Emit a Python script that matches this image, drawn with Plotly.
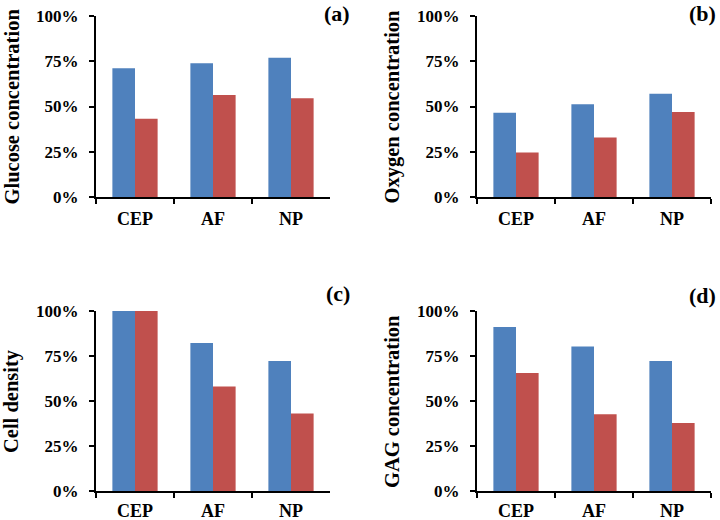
import plotly.graph_objects as go

categories = ["CEP", "AF", "NP"]
glucose_blue = [0.711, 0.739, 0.770]
glucose_red = [0.432, 0.564, 0.546]
oxygen_blue = [0.465, 0.513, 0.570]
oxygen_red = [0.246, 0.329, 0.469]
cell_blue = [1.00, 0.822, 0.722]
cell_red = [1.00, 0.581, 0.430]
gag_blue = [0.911, 0.803, 0.722]
gag_red = [0.655, 0.427, 0.378]
y_titles = ["Glucose concentration", "Oxygen concentration", "Cell density", "GAG concentration"]
panel_labels = ["(a)", "(b)", "(c)", "(d)"]
y_ticks = [0, 0.25, 0.5, 0.75, 1.0]

BLUE = "#4F81BD"
RED = "#C0504D"
FONT = "Liberation Serif"
W, H = 720, 520


def px(x):
    return x / W


def py(y):
    return 1 - y / H


panels = [
    (glucose_blue, glucose_red),
    (oxygen_blue, oxygen_red),
    (cell_blue, cell_red),
    (gag_blue, gag_red),
]
xdomains = [(96, 330), (477, 711), (96, 330), (477, 711)]
ydomains = [(197, 16), (197, 16), (491, 311), (491, 311)]
x_standoff = [4, 4, 2, 2]
title_x = [12, 392, 12, 392]
label_pos = [(352, 13), (718, 13), (352, 293), (718, 295)]

fig = go.Figure()
layout = {}
annotations = []
for i, (b, r) in enumerate(panels):
    n = "" if i == 0 else str(i + 1)
    fig.add_trace(go.Bar(x=categories, y=b, marker=dict(color=BLUE, line=dict(width=0)),
                         xaxis="x" + n, yaxis="y" + n, showlegend=False))
    fig.add_trace(go.Bar(x=categories, y=r, marker=dict(color=RED, line=dict(width=0)),
                         xaxis="x" + n, yaxis="y" + n, showlegend=False))
    x0, x1 = xdomains[i]
    y0, y1 = ydomains[i]
    layout["xaxis" + n] = dict(
        domain=[px(x0), px(x1)], anchor="y" + n, showline=True, linecolor="black", linewidth=2,
        ticks="outside", tickson="boundaries", ticklen=5, tickwidth=2, tickcolor="black",
        showgrid=False, zeroline=False, automargin=False, ticklabelstandoff=x_standoff[i],
        ticklabeloverflow="allow",
        tickfont=dict(family=FONT, size=18, color="black", weight="bold"),
    )
    layout["yaxis" + n] = dict(
        domain=[py(y0), py(y1)], anchor="x" + n, range=[0, 1], tickvals=y_ticks,
        tickformat=".0%", showline=True, linecolor="black", linewidth=2,
        ticks="outside", ticklen=5, tickwidth=2, tickcolor="black",
        showgrid=False, zeroline=False, automargin=False, ticklabelstandoff=7,
        ticklabeloverflow="allow",
        tickfont=dict(family=FONT, size=17, color="black", weight="bold"),
    )
    annotations.append(dict(
        text="<b>%s</b>" % y_titles[i], xref="paper", yref="paper", x=px(title_x[i]),
        y=(py(y0) + py(y1)) / 2,
        xanchor="center", yanchor="middle", textangle=-90, showarrow=False,
        font=dict(family=FONT, size=20.5, color="black"),
    ))
    lx, ly = label_pos[i]
    annotations.append(dict(
        text="<b>%s</b>" % panel_labels[i], xref="paper", yref="paper", x=px(lx), y=py(ly),
        xanchor="right", yanchor="middle", showarrow=False,
        font=dict(family=FONT, size=22, color="black"),
    ))

fig.update_layout(
    width=W, height=H, margin=dict(l=0, r=0, t=0, b=0),
    paper_bgcolor="white", plot_bgcolor="white",
    barmode="group", bargap=0.42, bargroupgap=0,
    font=dict(family=FONT, color="black"),
    annotations=annotations, showlegend=False,
    **layout,
)

fig.write_html("out.html", config={"displayModeBar": False},
               post_script="document.body.style.margin='0';document.body.style.overflow='hidden';")
